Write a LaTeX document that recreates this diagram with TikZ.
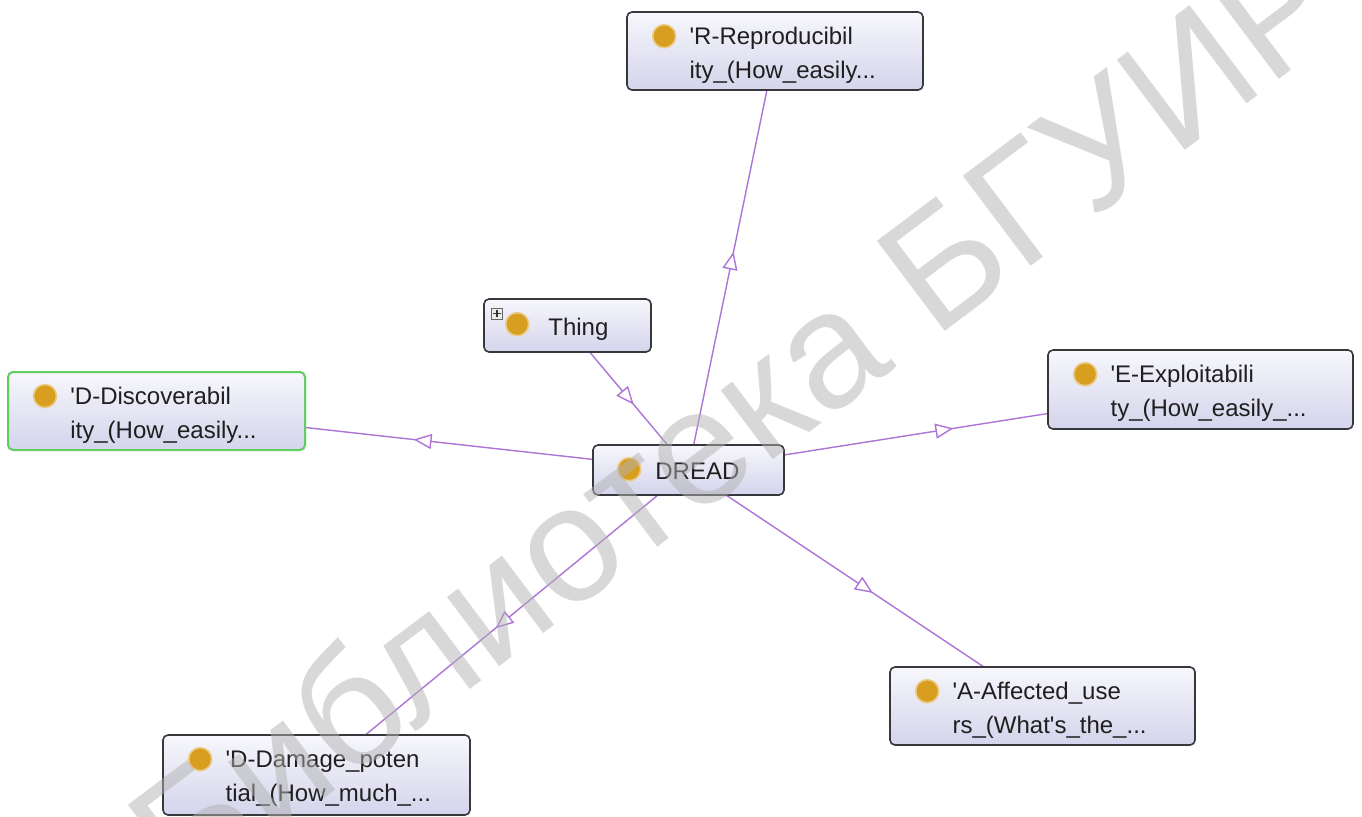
\documentclass[tikz,border=0pt]{standalone}
\usepackage{fontspec}
\setmainfont{Liberation Sans}
\usetikzlibrary{arrows.meta,decorations.markings}
\pgfdeclarelayer{background}
\pgfdeclarelayer{foreground}
\pgfsetlayers{background,main,foreground}

\definecolor{edgecol}{RGB}{172,116,214}
\definecolor{boxtop}{RGB}{247,247,252}
\definecolor{boxbot}{RGB}{212,212,236}
\definecolor{boxline}{RGB}{55,55,60}
\definecolor{selline}{RGB}{95,205,95}
\definecolor{dotcol}{RGB}{216,158,32}
\definecolor{wmark}{RGB}{178,178,178}

\tikzset{
  box/.style={rectangle, rounded corners=2.5pt, draw=boxline, line width=0.8pt,
    top color=boxtop, bottom color=boxbot, inner sep=0pt},
  selbox/.style={box, draw=selline, line width=1pt},
  dot/.style={circle, fill=dotcol, draw=dotcol!55, line width=0.8pt,
    minimum size=11.5pt, inner sep=0pt},
  lbl/.style={anchor=base west, inner sep=0pt, text=black!88,
    font=\fontsize{12}{14}\selectfont},
  edge/.style={draw=edgecol, line width=0.7pt, postaction={decorate},
    decoration={markings, mark=at position 0.5 with
      {\arrow[xshift=4.5pt]{Triangle[length=9pt,width=7.5pt,fill=white]}}}},
}

% class box: name, centre, width, height, first line, second line
\newcommand\classnode[7][box]{%
  \node[#1, minimum width=#4, minimum height=#5] (#2) at #3 {};
  \node[dot] (#2-dot) at ([shift={(19pt,-12.5pt)}]#2.north west) {};
  \node[lbl] (#2-a) at ([shift={(31.5pt,-16.5pt)}]#2.north west) {#6};
  \node[lbl] (#2-b) at ([shift={(31.5pt,-33.5pt)}]#2.north west) {#7};
}

\begin{document}
\begin{tikzpicture}[x=0.5pt,y=-0.5pt]
\useasboundingbox (0,0) rectangle (1362,816);
\begin{pgfonlayer}{background}
  \fill[white] (0,0) rectangle (1362,816);
\end{pgfonlayer}

% central class and its parent
\node[box, minimum width=95.5pt, minimum height=25pt] (dread) at (688.5,470) {};
\node[dot] (dread-dot) at ([shift={(18.5pt,-12.5pt)}]dread.north west) {};
\node[lbl] (dread-a) at (655,479) {DREAD};

\node[box, minimum width=83.5pt, minimum height=26.5pt] (thing) at (567.5,325.5) {};
\node[dot] (thing-dot) at ([shift={(17pt,-13pt)}]thing.north west) {};
\node[lbl] (thing-a) at (548,335) {Thing};
\node[draw=gray!80!black, fill=green!6!gray!15, line width=0.4pt,
      minimum size=5.5pt, inner sep=0pt] (thing-exp) at (497,313.5) {};
\draw[line width=0.7pt, black!80] ([xshift=1.1pt]thing-exp.west) -- ([xshift=-1.1pt]thing-exp.east)
  ([yshift=-1.1pt]thing-exp.north) -- ([yshift=1.1pt]thing-exp.south);

% subclasses
\classnode{r}{(775,51)}{148pt}{39pt}{\textquotesingle R-Reproducibil}{ity\_(How\_easily...}
\classnode[selbox]{disc}{(156.5,411)}{148.5pt}{39pt}{\textquotesingle D-Discoverabil}{ity\_(How\_easily...}
\classnode{expl}{(1200.5,389.5)}{152.5pt}{39.5pt}{\textquotesingle E-Exploitabili}{ty\_(How\_easily\_...}
\classnode{aff}{(1042.5,706)}{152.5pt}{39pt}{\textquotesingle A-Affected\_use}{rs\_(What\textquotesingle s\_the\_...}
\classnode{dmg}{(316.5,775)}{153.5pt}{40pt}{\textquotesingle D-Damage\_poten}{tial\_(How\_much\_...}

% subclass links
\begin{pgfonlayer}{background}
  \draw[edge] (thing.center) -- (dread.center);
  \draw[edge] (dread.center) -- (r.center);
  \draw[edge] (dread.center) -- (disc.center);
  \draw[edge] (dread.center) -- (expl.center);
  \draw[edge] (dread.center) -- (aff.center);
  \draw[edge] (dread.center) -- (dmg.center);
\end{pgfonlayer}

% library stamp across the page
\begin{pgfonlayer}{foreground}
  \node[rotate=37, text=wmark, text opacity=0.5, inner sep=0pt,
        font=\fontsize{82}{90}\selectfont] (stamp) at (735,415) {Библиотека БГУИР};
\end{pgfonlayer}
\end{tikzpicture}
\end{document}
